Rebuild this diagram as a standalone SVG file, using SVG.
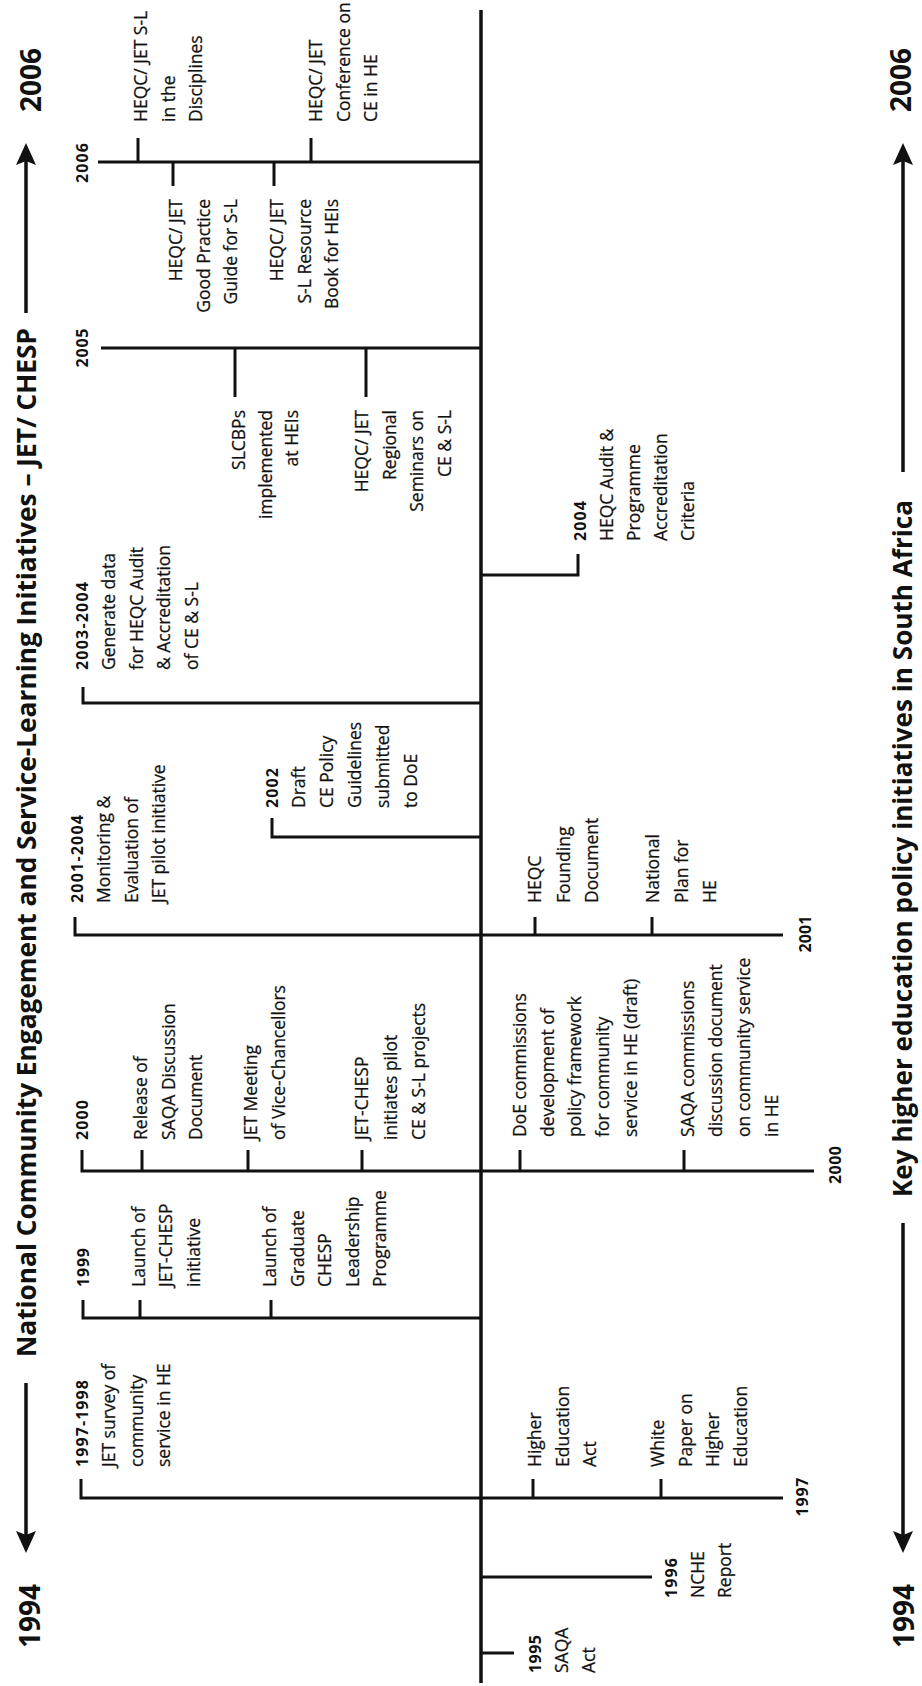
<svg xmlns="http://www.w3.org/2000/svg" width="922" height="1686" viewBox="0 0 922 1686">
<style>
.t{font-family:"Open Sans","Noto Sans","Liberation Sans",sans-serif;font-size:17.5px;fill:#111;stroke:#111;stroke-width:0.25}
.e{text-anchor:end}
.y{font-family:"Open Sans","Noto Sans","Liberation Sans",sans-serif;font-size:16px;font-weight:700;fill:#111}
.m{text-anchor:middle}
.big{font-family:"Open Sans","Noto Sans","Liberation Sans",sans-serif;font-size:28px;font-weight:700;fill:#111;text-anchor:middle}
.ttl{font-family:"Open Sans","Noto Sans","Liberation Sans",sans-serif;font-size:27px;font-weight:700;fill:#111}
.ln{stroke:#111;stroke-width:3;fill:none;stroke-linecap:butt}
.ax{stroke:#111;stroke-width:3.5;fill:none}
.ar{stroke:#111;stroke-width:3.5;fill:none;marker-end:url(#ah)}
</style>
<defs>
<marker id="ah" markerUnits="userSpaceOnUse" markerWidth="24" markerHeight="22" refX="12" refY="10" orient="auto" viewBox="0 0 24 22">
<path d="M0,0 L22,10 L0,20 L4,10 Z" fill="#111"/>
</marker>
</defs>
<rect width="922" height="1686" fill="#fff"/>

<g id="connectors">
<line class="ax" x1="481" y1="10" x2="481" y2="1683"/>
<!-- 2006 -->
<line class="ln" x1="98" y1="162" x2="481" y2="162"/>
<line class="ln" x1="138" y1="138" x2="138" y2="162"/>
<line class="ln" x1="311" y1="138" x2="311" y2="162"/>
<line class="ln" x1="173" y1="162" x2="173" y2="186"/>
<line class="ln" x1="274" y1="162" x2="274" y2="186"/>
<!-- 2005 -->
<line class="ln" x1="101" y1="348" x2="481" y2="348"/>
<line class="ln" x1="235" y1="348" x2="235" y2="397"/>
<line class="ln" x1="366" y1="348" x2="366" y2="397"/>
<!-- 2004 -->
<path class="ln" d="M481,575 H578 V554"/>
<!-- 2003-2004 -->
<path class="ln" d="M83,687 V703 H481"/>
<!-- 2002 -->
<path class="ln" d="M272,818 V837 H481"/>
<!-- 2001 -->
<path class="ln" d="M75,917 V935 H783"/>
<line class="ln" x1="535" y1="917" x2="535" y2="935"/>
<line class="ln" x1="652" y1="917" x2="652" y2="935"/>
<!-- 2000 -->
<path class="ln" d="M82,1150 V1171 H814"/>
<line class="ln" x1="142" y1="1150" x2="142" y2="1171"/>
<line class="ln" x1="248" y1="1150" x2="248" y2="1171"/>
<line class="ln" x1="362" y1="1150" x2="362" y2="1171"/>
<line class="ln" x1="520" y1="1150" x2="520" y2="1171"/>
<line class="ln" x1="684" y1="1150" x2="684" y2="1171"/>
<!-- 1999 -->
<path class="ln" d="M83,1300 V1318 H481"/>
<line class="ln" x1="140" y1="1300" x2="140" y2="1318"/>
<line class="ln" x1="271" y1="1300" x2="271" y2="1318"/>
<!-- 1997 -->
<path class="ln" d="M81,1479 V1498 H783"/>
<line class="ln" x1="533" y1="1479" x2="533" y2="1498"/>
<line class="ln" x1="661" y1="1479" x2="661" y2="1498"/>
<!-- 1996 / 1995 -->
<line class="ln" x1="481" y1="1577" x2="652" y2="1577"/>
<line class="ln" x1="481" y1="1653" x2="514" y2="1653"/>
<!-- arrows -->
<line class="ar" x1="26" y1="313" x2="26" y2="153"/>
<line class="ar" x1="26" y1="1383" x2="26" y2="1543"/>
<line class="ar" x1="903" y1="472" x2="903" y2="153"/>
<line class="ar" x1="903" y1="1223" x2="903" y2="1543"/>
</g>

<g id="title-jet" transform="translate(36,1357) rotate(-90)"><text class="ttl" x="0" y="0" textLength="1029" lengthAdjust="spacingAndGlyphs">National Community Engagement and Service-Learning Initiatives – JET/ CHESP</text></g>
<g id="title-policy" transform="translate(912,1197) rotate(-90)"><text class="ttl" x="0" y="0" textLength="697" lengthAdjust="spacingAndGlyphs">Key higher education policy initiatives in South Africa</text></g>
<g id="year-2006-left" transform="translate(41,80) rotate(-90)"><text class="big" x="0" y="0">2006</text></g>
<g id="year-1994-left" transform="translate(40,1616) rotate(-90)"><text class="big" x="0" y="0">1994</text></g>
<g id="year-2006-right" transform="translate(911,80) rotate(-90)"><text class="big" x="0" y="0">2006</text></g>
<g id="year-1994-right" transform="translate(914,1616) rotate(-90)"><text class="big" x="0" y="0">1994</text></g>

<g id="lbl-2006" transform="translate(88,163) rotate(-90)"><text class="y m" x="0" y="0" textLength="40">2006</text></g>
<g id="lbl-2005" transform="translate(88,348) rotate(-90)"><text class="y m" x="0" y="0" textLength="39">2005</text></g>
<g id="lbl-2001" transform="translate(811,934) rotate(-90)"><text class="y m" x="0" y="0" textLength="37">2001</text></g>
<g id="lbl-2000r" transform="translate(841,1165) rotate(-90)"><text class="y m" x="0" y="0" textLength="38">2000</text></g>
<g id="lbl-1997" transform="translate(808,1497) rotate(-90)"><text class="y m" x="0" y="0" textLength="39">1997</text></g>

<g id="n-sl-disciplines" transform="translate(147,122) rotate(-90)">
<text class="t" x="0" y="0">HEQC/ JET S-L</text><text class="t" x="0" y="27.5">in the</text><text class="t" x="0" y="55">Disciplines</text></g>
<g id="n-conference" transform="translate(322,122) rotate(-90)">
<text class="t" x="0" y="0">HEQC/ JET</text><text class="t" x="0" y="27.5">Conference on</text><text class="t" x="0" y="55">CE in HE</text></g>
<g id="n-good-practice" transform="translate(182,199) rotate(-90)">
<text class="t e" x="0" y="0">HEQC/ JET</text><text class="t e" x="0" y="27.5">Good Practice</text><text class="t e" x="0" y="55">Guide for S-L</text></g>
<g id="n-resource-book" transform="translate(283,199) rotate(-90)">
<text class="t e" x="0" y="0">HEQC/ JET</text><text class="t e" x="0" y="27.5">S-L Resource</text><text class="t e" x="0" y="55">Book for HEIs</text></g>
<g id="n-slcbps" transform="translate(245,410) rotate(-90)">
<text class="t e" x="0" y="0">SLCBPs</text><text class="t e" x="0" y="26.5">implemented</text><text class="t e" x="0" y="53">at HEIs</text></g>
<g id="n-regional" transform="translate(368,410) rotate(-90)">
<text class="t e" x="0" y="0">HEQC/ JET</text><text class="t e" x="0" y="27.5">Regional</text><text class="t e" x="0" y="55">Seminars on</text><text class="t e" x="0" y="83">CE &amp; S-L</text></g>
<g id="n-2003-2004" transform="translate(88,670) rotate(-90)">
<text class="y" x="0" y="0" textLength="88">2003-2004</text><text class="t" x="0" y="27">Generate data</text><text class="t" x="0" y="54.5">for HEQC Audit</text><text class="t" x="0" y="82">&amp; Accreditation</text><text class="t" x="0" y="109.5">of CE &amp; S-L</text></g>
<g id="n-2002" transform="translate(278,808) rotate(-90)">
<text class="y" x="0" y="0" textLength="40">2002</text><text class="t" x="0" y="27">Draft</text><text class="t" x="0" y="55">CE Policy</text><text class="t" x="0" y="83">Guidelines</text><text class="t" x="0" y="111">submitted</text><text class="t" x="0" y="139">to DoE</text></g>
<g id="n-2001-2004" transform="translate(83,903) rotate(-90)">
<text class="y" x="0" y="0" textLength="88">2001-2004</text><text class="t" x="0" y="27">Monitoring &amp;</text><text class="t" x="0" y="54.5">Evaluation of</text><text class="t" x="0" y="82">JET pilot initiative</text></g>
<g id="n-2000" transform="translate(88,1140) rotate(-90)"><text class="y" x="0" y="0" textLength="40">2000</text></g>
<g id="n-saqa-release" transform="translate(147,1140) rotate(-90)">
<text class="t" x="0" y="0">Release of</text><text class="t" x="0" y="27.5">SAQA Discussion</text><text class="t" x="0" y="55">Document</text></g>
<g id="n-jet-meeting" transform="translate(257,1140) rotate(-90)">
<text class="t" x="0" y="0">JET Meeting</text><text class="t" x="0" y="28">of Vice-Chancellors</text></g>
<g id="n-jet-chesp-pilot" transform="translate(368,1140) rotate(-90)">
<text class="t" x="0" y="0">JET-CHESP</text><text class="t" x="0" y="28.5">initiates pilot</text><text class="t" x="0" y="57">CE &amp; S-L projects</text></g>
<g id="n-1999" transform="translate(89,1287) rotate(-90)"><text class="y" x="0" y="0" textLength="39">1999</text></g>
<g id="n-launch-jet-chesp" transform="translate(145,1287) rotate(-90)">
<text class="t" x="0" y="0">Launch of</text><text class="t" x="0" y="27">JET-CHESP</text><text class="t" x="0" y="55">initiative</text></g>
<g id="n-launch-graduate" transform="translate(276,1287) rotate(-90)">
<text class="t" x="0" y="0">Launch of</text><text class="t" x="0" y="27.5">Graduate</text><text class="t" x="0" y="55">CHESP</text><text class="t" x="0" y="82.5">Leadership</text><text class="t" x="0" y="110">Programme</text></g>
<g id="n-1997-1998" transform="translate(88,1467) rotate(-90)">
<text class="y" x="0" y="0" textLength="87">1997-1998</text><text class="t" x="0" y="27">JET survey of</text><text class="t" x="0" y="54.5">community</text><text class="t" x="0" y="82">service in HE</text></g>

<g id="n-2004" transform="translate(586,541) rotate(-90)">
<text class="y" x="0" y="0" textLength="40">2004</text><text class="t" x="0" y="27">HEQC Audit &amp;</text><text class="t" x="0" y="54">Programme</text><text class="t" x="0" y="81">Accreditation</text><text class="t" x="0" y="108">Criteria</text></g>
<g id="n-heqc-founding" transform="translate(541,903) rotate(-90)">
<text class="t" x="0" y="0">HEQC</text><text class="t" x="0" y="29">Founding</text><text class="t" x="0" y="57">Document</text></g>
<g id="n-national-plan" transform="translate(659,903) rotate(-90)">
<text class="t" x="0" y="0">National</text><text class="t" x="0" y="29">Plan for</text><text class="t" x="0" y="57">HE</text></g>
<g id="n-doe" transform="translate(526,1137) rotate(-90)">
<text class="t" x="0" y="0">DoE commissions</text><text class="t" x="0" y="27.5">development of</text><text class="t" x="0" y="55">policy framework</text><text class="t" x="0" y="83">for community</text><text class="t" x="0" y="111">service in HE (draft)</text></g>
<g id="n-saqa-commissions" transform="translate(694,1137) rotate(-90)">
<text class="t" x="0" y="0">SAQA commissions</text><text class="t" x="0" y="28">discussion document</text><text class="t" x="0" y="55.5">on community service</text><text class="t" x="0" y="84">in HE</text></g>
<g id="n-he-act" transform="translate(541,1467) rotate(-90)">
<text class="t" x="0" y="0">Higher</text><text class="t" x="0" y="27.5">Education</text><text class="t" x="0" y="55">Act</text></g>
<g id="n-white-paper" transform="translate(664,1467) rotate(-90)">
<text class="t" x="0" y="0">White</text><text class="t" x="0" y="27.5">Paper on</text><text class="t" x="0" y="55">Higher</text><text class="t" x="0" y="82.5">Education</text></g>
<g id="n-1996" transform="translate(677,1598) rotate(-90)">
<text class="y" x="0" y="0" textLength="40">1996</text><text class="t" x="0" y="27">NCHE</text><text class="t" x="0" y="54">Report</text></g>
<g id="n-1995" transform="translate(541,1673) rotate(-90)">
<text class="y" x="0" y="0" textLength="38">1995</text><text class="t" x="0" y="27">SAQA</text><text class="t" x="0" y="54">Act</text></g>
</svg>
